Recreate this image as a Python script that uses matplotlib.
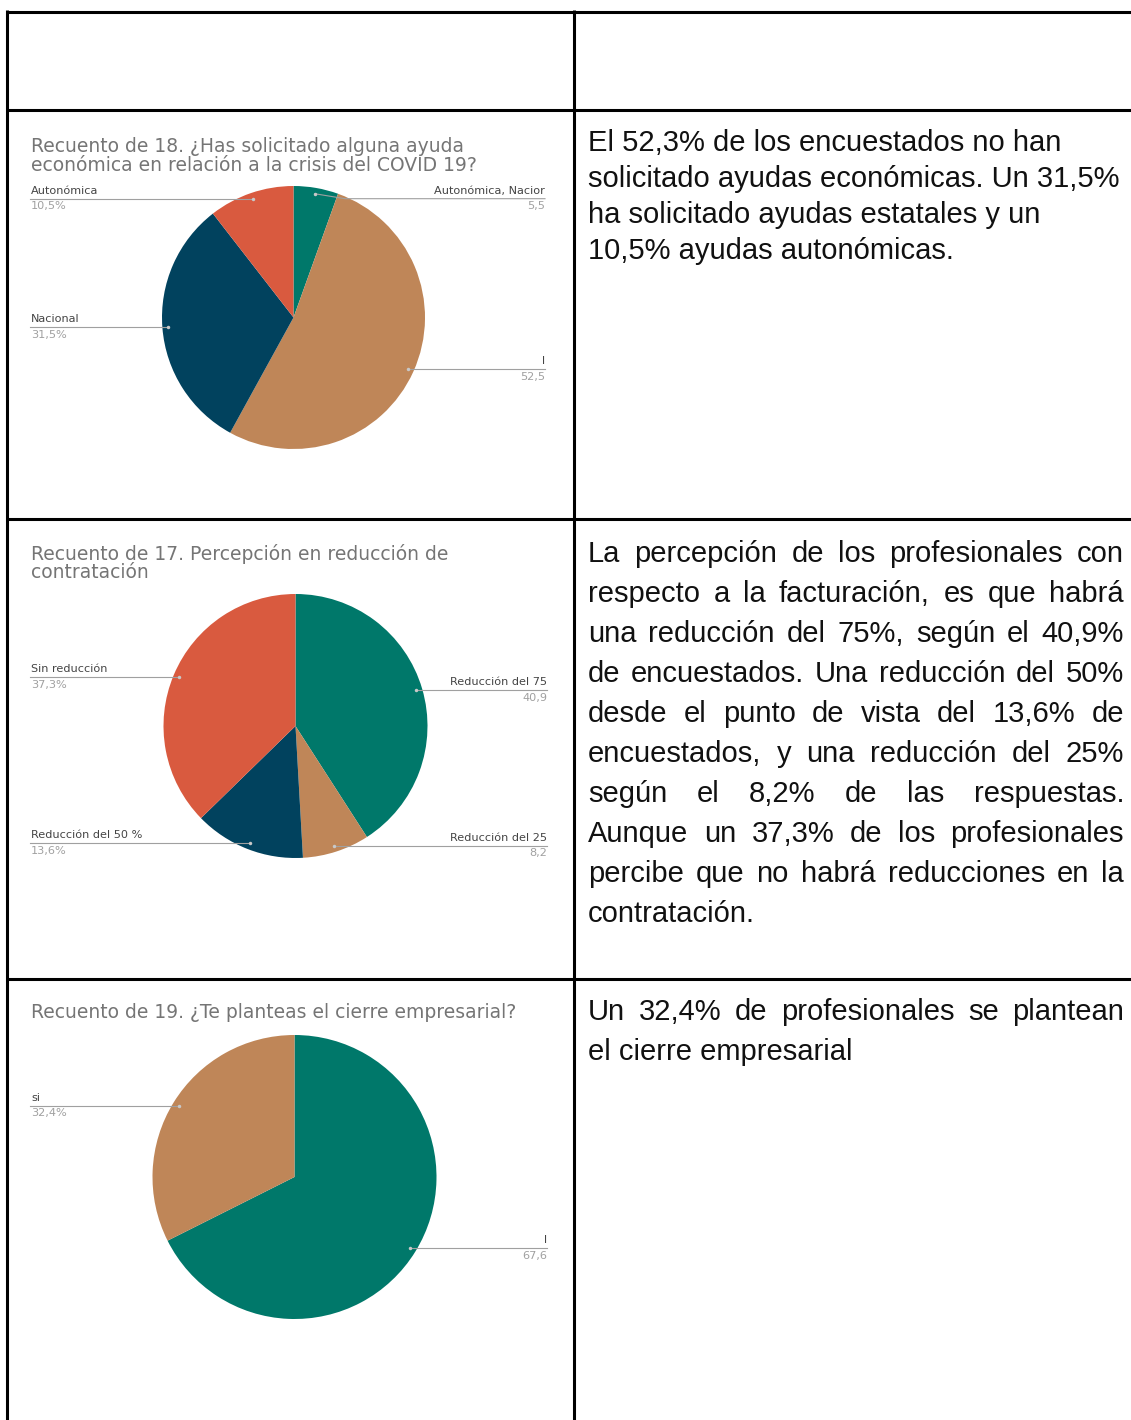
import numpy as np
import matplotlib
matplotlib.use("Agg")
import matplotlib.pyplot as plt

W, H = 1131, 1420

# Datos de los graficos
p18_labels = ["Autonómica, Nacior", "l", "Nacional", "Autonómica"]
p18_values = [5.5, 52.5, 31.5, 10.5]
p18_text = ["5,5", "52,5", "31,5%", "10,5%"]

p17_labels = ["Reducción del 75", "Reducción del 25", "Reducción del 50 %", "Sin reducción"]
p17_values = [40.9, 8.2, 13.6, 37.3]
p17_text = ["40,9", "8,2", "13,6%", "37,3%"]

p19_labels = ["l", "si"]
p19_values = [67.6, 32.4]
p19_text = ["67,6", "32,4%"]

teal, tan, navy, red = "#00786A", "#BF8658", "#01425E", "#D95A3F"
p18_colors = [teal, tan, navy, red]
p17_colors = [teal, tan, navy, red]
p19_colors = [teal, tan]

t18 = ["Recuento de 18. ¿Has solicitado alguna ayuda",
       "económica en relación a la crisis del COVID 19?"]
t17 = ["Recuento de 17. Percepción en reducción de", "contratación"]
t19 = ["Recuento de 19. ¿Te planteas el cierre empresarial?"]

txt18 = ["El 52,3% de los encuestados no han",
         "solicitado ayudas económicas. Un 31,5%",
         "ha solicitado ayudas estatales y un",
         "10,5% ayudas autonómicas."]
txt17 = ["La percepción de los profesionales con",
         "respecto a la facturación, es que habrá",
         "una reducción del 75%, según el 40,9%",
         "de encuestados. Una reducción del 50%",
         "desde el punto de vista del 13,6% de",
         "encuestados, y una reducción del 25%",
         "según el 8,2% de las respuestas.",
         "Aunque un 37,3% de los profesionales",
         "percibe que no habrá reducciones en la",
         "contratación."]
txt19 = ["Un 32,4% de profesionales se plantean",
         "el cierre empresarial"]

fig = plt.figure(figsize=(W / 100, H / 100), dpi=100)
fig.patch.set_facecolor("white")


def pie_axes(cx, cy, r, values, colors):
    a = fig.add_axes([(cx - r) / W, 1 - (cy + r) / H, 2 * r / W, 2 * r / H])
    wedges, _ = a.pie(values, colors=colors, startangle=90, counterclock=False,
                      wedgeprops=dict(linewidth=0))
    a.set_xlim(-1, 1)
    a.set_ylim(-1, 1)
    return wedges


# Pies (en pixeles: centro x, centro y, radio)
pies = [
    (293.5, 317.5, 131.5, p18_values, p18_colors, p18_labels, p18_text, t18, 147, 545),
    (295.5, 726, 132, p17_values, p17_colors, p17_labels, p17_text, t17, 554, 547),
    (294.5, 1177, 142, p19_values, p19_colors, p19_labels, p19_text, t19, 1013, 547),
]
all_wedges = [pie_axes(p[0], p[1], p[2], p[3], p[4]) for p in pies]

# Capa superior en coordenadas de pixel
ax = fig.add_axes([0, 0, 1, 1])
ax.set_xlim(0, W)
ax.set_ylim(H, 0)
ax.axis("off")
ax.patch.set_alpha(0)

# Tabla
lw = 2.2
for y in [11.5, 109.5, 519, 978.5]:
    ax.plot([7, W + 5], [y, y], color="black", lw=lw, solid_capstyle="butt")
for x in [7, 573.5]:
    ax.plot([x, x], [10, H + 5], color="black", lw=lw, solid_capstyle="butt")

chart_font = "DejaVu Sans"
for (cx, cy, r, vals, cols, labels, texts, title, ty, xr), wedges in zip(pies, all_wedges):
    for i, line in enumerate(title):
        ax.text(31, ty + i * 18.5, line, fontsize=13.5, color="#757575",
                family=chart_font, va="center", ha="left")
    dots = []
    for w in wedges:
        mid = np.deg2rad((w.theta1 + w.theta2) / 2)
        dots.append((cx + 0.955 * r * np.cos(mid), cy - 0.955 * r * np.sin(mid)))
    for i, (lab, val) in enumerate(zip(labels, texts)):
        dx, dy = dots[i]
        ly = dy
        right = dx > cx
        # la etiqueta pequena de arriba a la derecha se alinea con la de la izquierda
        if right and i == 0 and title is t18:
            ly = dots[3][1]
        if right:
            ax.plot([dx, dx + 30, xr], [dy, ly, ly], color="#A0A0A0", lw=0.8)
            ax.text(xr, ly - 8, lab, fontsize=8.1, color="#444444", family=chart_font,
                    ha="right", va="center")
            ax.text(xr, ly + 7.5, val, fontsize=8.1, color="#A0A0A0", family=chart_font,
                    ha="right", va="center")
        else:
            ax.plot([30, dx], [ly, dy], color="#A0A0A0", lw=0.8)
            ax.text(31, ly - 8, lab, fontsize=8.1, color="#444444", family=chart_font,
                    ha="left", va="center")
            ax.text(31, ly + 7.5, val, fontsize=8.1, color="#A0A0A0", family=chart_font,
                    ha="left", va="center")
        ax.plot(dx, dy, "o", color="#C8C8C8", markersize=2.5, markeredgewidth=0)

# Texto de la columna derecha
renderer = fig.canvas.get_renderer()
body = dict(fontsize=21, color="#111111", family="Liberation Sans", va="center")
X0, X1 = 588, 1124


def write(lines, y0, dy, justified):
    for k, line in enumerate(lines):
        y = y0 + k * dy
        last = k == len(lines) - 1
        if not justified or last:
            ax.text(X0, y, line, ha="left", **body)
            continue
        words = line.split()
        items = [ax.text(0, y, wd, ha="left", **body) for wd in words]
        widths = [t.get_window_extent(renderer).width for t in items]
        gap = (X1 - X0 - sum(widths)) / (len(words) - 1)
        x = X0
        for t, wd in zip(items, widths):
            t.set_x(x)
            x += wd + gap


write(txt18, 143, 36, False)
write(txt17, 554, 40, True)
write(txt19, 1012, 40, True)

fig.savefig("out.png", dpi=100)
